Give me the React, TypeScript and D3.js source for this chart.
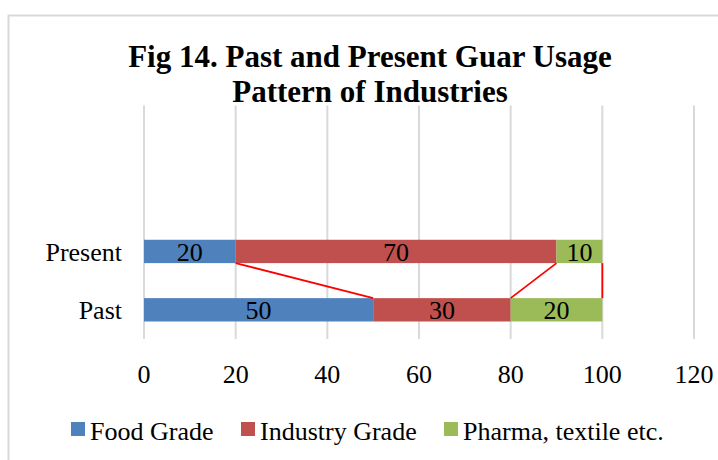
import React from "react";
import * as d3 from "d3";

const categories = ["Present", "Past"];
const seriesNames = ["Food Grade", "Industry Grade", "Pharma, textile etc."];
const foodGrade = [20, 50];
const industryGrade = [70, 30];
const pharmaTextile = [10, 20];
const xTicks = [0, 20, 40, 60, 80, 100, 120];
const colors = ["#4f81bd", "#c0504d", "#9bbb59"];

const W = 718;
const H = 460;
const FONT = "'Liberation Serif', 'Times New Roman', serif";

export default function App() {
  const rows = categories.map((c, i) => ({
    category: c,
    "Food Grade": foodGrade[i],
    "Industry Grade": industryGrade[i],
    "Pharma, textile etc.": pharmaTextile[i],
  }));
  const stacked = d3.stack<any>().keys(seriesNames)(rows);

  const x = d3.scaleLinear().domain([0, 120]).range([144, 694]);
  // Excel left two empty category slots above the bars
  const y = d3
    .scaleBand()
    .domain(["_a", "_b", ...categories])
    .range([105.5, 339])
    .paddingInner(0.6)
    .paddingOuter(0.3);
  const bw = y.bandwidth();

  // series lines between segment ends of Present (bottom) and Past (top)
  const yPresBottom = (y("Present") as number) + bw;
  const yPastTop = y("Past") as number;
  const connectors = stacked.map((s) => ({
    x1: x(s[0][1]),
    x2: x(s[1][1]),
  }));

  const legendX = [71, 241, 444];

  return (
    <svg
      width={W}
      height={H}
      style={{ position: "absolute", left: 0, top: 0, background: "#fff" }}
      fontFamily={FONT}
    >
      <rect x={8.5} y={15.5} width={740} height={480} fill="#fff" stroke="#d9d9d9" strokeWidth={2} />

      <text x={370} y={67} textAnchor="middle" fontSize={31} fontWeight="bold">
        Fig 14. Past and Present Guar Usage
      </text>
      <text x={370} y={101.5} textAnchor="middle" fontSize={31} fontWeight="bold">
        Pattern of Industries
      </text>

      {xTicks.map((t) => (
        <line key={t} x1={x(t)} x2={x(t)} y1={105.5} y2={339} stroke="#d9d9d9" strokeWidth={2} />
      ))}

      {stacked.map((s, si) =>
        s.map((d, i) => (
          <rect
            key={`${si}-${i}`}
            x={x(d[0])}
            y={y(categories[i])}
            width={x(d[1]) - x(d[0])}
            height={bw}
            fill={colors[si]}
          />
        ))
      )}

      {connectors.map((c, i) => (
        <line key={i} x1={c.x1} x2={c.x2} y1={yPresBottom} y2={yPastTop} stroke="#ff0000" strokeWidth={1.8} />
      ))}

      {stacked.map((s, si) =>
        s.map((d, i) => (
          <text
            key={`l${si}-${i}`}
            x={(x(d[0]) + x(d[1])) / 2}
            y={(y(categories[i]) as number) + bw / 2 + 9.5}
            textAnchor="middle"
            fontSize={26}
          >
            {d[1] - d[0]}
          </text>
        ))
      )}

      {categories.map((c) => (
        <text key={c} x={122} y={(y(c) as number) + bw / 2 + 9.5} textAnchor="end" fontSize={26}>
          {c}
        </text>
      ))}

      {xTicks.map((t) => (
        <text key={t} x={x(t)} y={383} textAnchor="middle" fontSize={26}>
          {t}
        </text>
      ))}

      {seriesNames.map((n, i) => (
        <g key={n} transform={`translate(${legendX[i]},0)`}>
          <rect x={0} y={422} width={14} height={14} fill={colors[i]} />
          <text x={19} y={440} fontSize={26}>
            {n}
          </text>
        </g>
      ))}
    </svg>
  );
}
